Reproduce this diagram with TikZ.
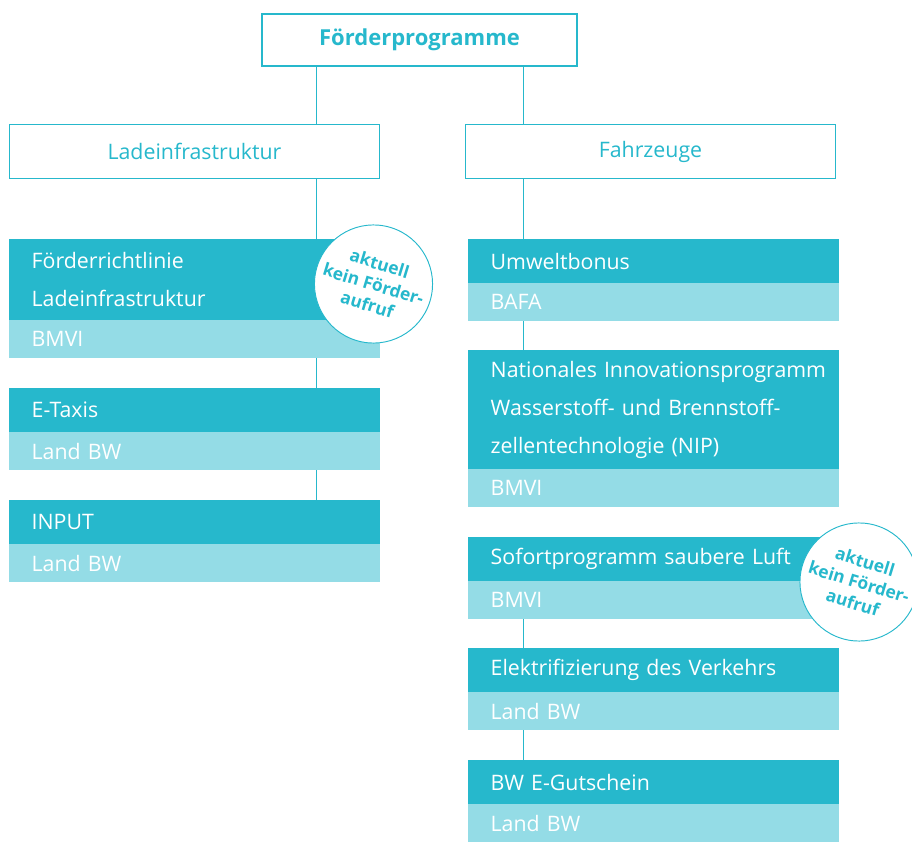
\documentclass[tikz,border=0pt]{standalone}
\usepackage{fontspec}
\setmainfont{Open Sans}
\usepackage{xcolor}
\usetikzlibrary{positioning}

\definecolor{foerderdark}{HTML}{26B8CC}
\definecolor{foerderlight}{HTML}{94DCE6}

\begin{document}
\begin{tikzpicture}[
    x=0.75pt, y=-0.75pt,
    node distance=22.5pt,
    font=\fontsize{16}{28.5}\selectfont,
    rootbox/.style={
        rectangle, draw=foerderdark, fill=white, line width=1.6pt,
        minimum width=236.5pt, minimum height=39pt,
        text=foerderdark, font=\fontsize{16.5}{18}\selectfont\bfseries
    },
    groupbox/.style={
        rectangle, draw=foerderdark, fill=white, line width=0.7pt,
        minimum width=277.5pt, minimum height=40.5pt, text=foerderdark
    },
    headbox/.style={
        rectangle, fill=foerderdark, text=white, outer sep=0pt,
        minimum width=278pt, minimum height=33pt,
        inner xsep=17pt, inner ysep=0pt, text width=244pt, align=left
    },
    subbox/.style={headbox, fill=foerderlight, minimum height=28.5pt},
    stamp/.style={
        circle, draw=foerderdark, fill=white, line width=0.7pt,
        minimum size=85.5pt, inner sep=0pt, align=center, rotate=-17,
        text=foerderdark, font=\fontsize{13}{16}\selectfont\bfseries
    },
    link/.style={draw=foerderdark, line width=0.7pt},
]

\useasboundingbox (0,0) rectangle (912,841);

% ---- Top level ----
\node[rootbox] (root) at (419.5,40) {Förderprogramme};

\node[groupbox] (lade) at (194.5,151.5) {Ladeinfrastruktur};
\node[groupbox] (fahr) at (650.5,151.5) {Fahrzeuge};

\coordinate (spineL) at (316,0);
\coordinate (spineR) at (523,0);

% ---- Ladeinfrastruktur column ----
\node[headbox, minimum height=60.75pt, anchor=north west] (frhead) at (9,239)
    {Förderrichtlinie\\Ladeinfrastruktur};
\node[subbox, below=0pt of frhead] (frsub) {BMVI};

\node[headbox, below=of frsub] (taxihead) {E-Taxis};
\node[subbox, below=0pt of taxihead] (taxisub) {Land BW};

\node[headbox, below=of taxisub] (inputhead) {INPUT};
\node[subbox, below=0pt of inputhead] (inputsub) {Land BW};

% ---- Fahrzeuge column ----
\node[headbox, anchor=north west] (umwelthead) at (468,239) {Umweltbonus};
\node[subbox, below=0pt of umwelthead] (umweltsub) {BAFA};

\node[headbox, minimum height=89.25pt, below=21.75pt of umweltsub] (niphead)
    {\mbox{Nationales Innovationsprogramm}\\Wasserstoff- und Brennstoff-\\zellentechnologie (NIP)};
\node[subbox, below=0pt of niphead] (nipsub) {BMVI};

\node[headbox, below=of nipsub] (sauberhead) {Sofortprogramm saubere Luft};
\node[subbox, below=0pt of sauberhead] (saubersub) {BMVI};

\node[headbox, below=21.75pt of saubersub] (elekhead) {Elektrifizierung des Verkehrs};
\node[subbox, below=0pt of elekhead] (eleksub) {Land BW};

\node[headbox, below=of eleksub] (gutscheinhead) {BW E-Gutschein};
\node[subbox, below=0pt of gutscheinhead] (gutscheinsub) {Land BW};

% ---- Connectors ----
\draw[link] (root.south -| spineL) -- (lade.north -| spineL);
\draw[link] (root.south -| spineR) -- (fahr.north -| spineR);

\draw[link] (lade.south -| spineL) -- (frhead.north -| spineL);
\draw[link] (frsub.south -| spineL) -- (taxihead.north -| spineL);
\draw[link] (taxisub.south -| spineL) -- (inputhead.north -| spineL);

\draw[link] (fahr.south -| spineR) -- (umwelthead.north -| spineR);
\draw[link] (umweltsub.south -| spineR) -- (niphead.north -| spineR);
\draw[link] (saubersub.south -| spineR) -- (elekhead.north -| spineR);
\draw[link] (eleksub.south -| spineR) -- (gutscheinhead.north -| spineR);

% ---- Stamps ----
\node[stamp] (stampL) at (373.5,284) {aktuell\\kein Förder-\\aufruf};
\node[stamp] (stampR) at (859,582) {aktuell\\kein Förder-\\aufruf};

\end{tikzpicture}
\end{document}
